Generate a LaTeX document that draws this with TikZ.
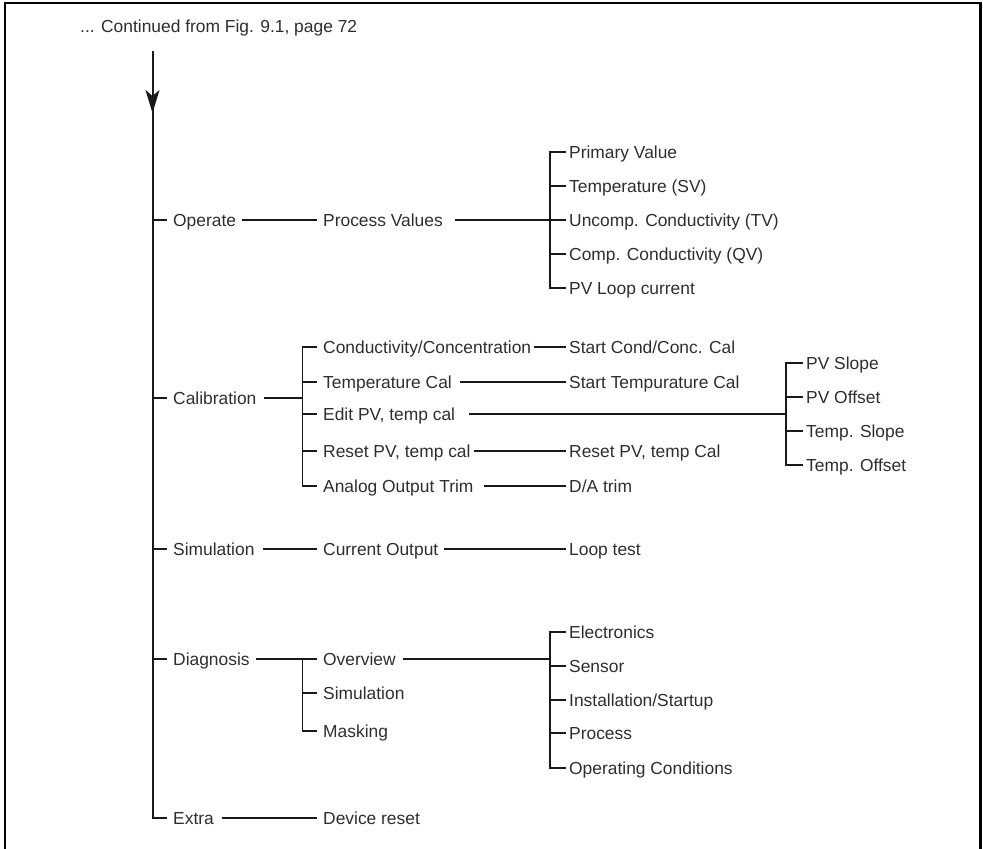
\documentclass[tikz,border=0pt]{standalone}
\usepackage{fontspec}
\setmainfont{Liberation Sans}
\usetikzlibrary{arrows.meta}
\begin{document}
\begin{tikzpicture}[x=1pt,y=-1pt,
  lbl/.style={anchor=west, inner xsep=3pt, inner ysep=0pt, text height=12.4pt, text depth=0pt,
              font=\fontsize{17.4}{20}\selectfont, text=black!82},
  ln/.style={line width=1.7pt, draw=black!90},
  trunk/.style={line width=2pt, draw=black!90},
  frame/.style={line width=2.6pt, draw=black}]
\useasboundingbox (0,0) rectangle (983,849);
\draw[frame] (5,849) -- (5,3) -- (980.5,3) -- (980.5,849);

% header
\node[lbl] (hd) at (77,26) {... Continued from Fig. 9.1, page 72};

% bracket columns
\coordinate (b2) at (302.5,0);
\coordinate (b3) at (550,0);
\coordinate (b4) at (786,0);

% column 1
\node[lbl] (op)  at (170,220) {Operate};
\node[lbl] (cal) at (170,398) {Calibration};
\node[lbl] (sim) at (170,549) {Simulation};
\node[lbl] (dia) at (170,659) {Diagnosis};
\node[lbl] (ex)  at (170,818) {Extra};

% column 2
\node[lbl] (pv) at (320,220) {Process Values};
\node[lbl] (cc) at (320,347) {Conductivity/Concentration};
\node[lbl] (tc) at (320,382) {Temperature Cal};
\node[lbl] (ep) at (320,414) {Edit PV, temp cal};
\node[lbl] (rp) at (320,451) {Reset PV, temp cal};
\node[lbl] (ao) at (320,486) {Analog Output Trim};
\node[lbl] (co) at (320,549) {Current Output};
\node[lbl] (ov) at (320,659) {Overview};
\node[lbl] (sm) at (320,693) {Simulation};
\node[lbl] (mk) at (320,731) {Masking};
\node[lbl] (dr) at (320,818) {Device reset};

% column 3
\node[lbl] (p1) at (566,152) {Primary Value};
\node[lbl] (p2) at (566,186) {Temperature (SV)};
\node[lbl] (p3) at (566,220) {Uncomp. Conductivity (TV)};
\node[lbl] (p4) at (566,254) {Comp. Conductivity (QV)};
\node[lbl] (p5) at (566,288) {PV Loop current};
\node[lbl] (sc) at (566,347) {Start Cond/Conc. Cal};
\node[lbl] (st) at (566,382) {Start Tempurature Cal};
\node[lbl] (rc) at (566,451) {Reset PV, temp Cal};
\node[lbl] (da) at (566,486) {D/A trim};
\node[lbl] (lt) at (566,549) {Loop test};
\node[lbl] (e1) at (566,632) {Electronics};
\node[lbl] (e2) at (566,666) {Sensor};
\node[lbl] (e3) at (566,700) {Installation/Startup};
\node[lbl] (e4) at (566,733) {Process};
\node[lbl] (e5) at (566,768) {Operating Conditions};

% column 4
\node[lbl] (s1) at (803,363) {PV Slope};
\node[lbl] (s2) at (803,397) {PV Offset};
\node[lbl] (s3) at (803,431) {Temp. Slope};
\node[lbl] (s4) at (803,465) {Temp. Offset};

% trunk
\coordinate (top) at (152.5,51);
\coordinate (tip) at (152.5,113);
\coordinate (bot) at (152.5,818);
\draw[trunk, -{Stealth[length=23pt,width=14pt,inset=6pt]}] (top) -- (tip);
\draw[trunk, line join=miter, shorten >=3.5pt] (top) -- (bot) -- (ex.west);
\foreach \n in {op,cal,sim,dia}
  \draw[ln, shorten >=3.5pt] (\n.west -| bot) -- (\n.west);

% Operate branch
\draw[ln, shorten <=3pt, shorten >=3pt] (op.east) -- (pv.west);
\draw[ln, shorten <=9pt] (pv.east) -- (p3.west);
\draw[ln] (p1.west) -- (p1.west -| b3) -- (p5.west -| b3) -- (p5.west);
\draw[ln] (p2.west -| b3) -- (p2.west);
\draw[ln] (p4.west -| b3) -- (p4.west);

% Calibration branch
\draw[ln, shorten <=4pt] (cal.east) -- (cal.east -| b2);
\draw[ln, shorten <=3pt, shorten >=3pt] (cc.west) -- (cc.west -| b2) -- (ao.west -| b2) -- (ao.west);
\foreach \n in {tc,ep,rp}
  \draw[ln, shorten >=3pt] (\n.west -| b2) -- (\n.west);
\draw[ln] (cc.east) -- (sc.west);
\draw[ln, shorten <=5pt] (tc.east) -- (st.west);
\draw[ln, shorten <=11pt] (ep.east) -- (ep.east -| b4);
\draw[ln] (rp.east) -- (rc.west);
\draw[ln, shorten <=7pt] (ao.east) -- (da.west);
\draw[ln] (s1.west) -- (s1.west -| b4) -- (s4.west -| b4) -- (s4.west);
\draw[ln] (s2.west -| b4) -- (s2.west);
\draw[ln] (s3.west -| b4) -- (s3.west);

% Simulation branch
\draw[ln, shorten <=5pt, shorten >=3pt] (sim.east) -- (co.west);
\draw[ln, shorten <=3pt] (co.east) -- (lt.west);

% Diagnosis branch
\draw[ln, shorten <=3pt, shorten >=3pt] (dia.east) -- (ov.west);
\draw[ln, shorten >=3pt] (ov.west -| b2) -- (mk.west -| b2) -- (mk.west);
\draw[ln, shorten >=3pt] (sm.west -| b2) -- (sm.west);
\draw[ln, shorten <=4pt] (ov.east) -- (ov.east -| b3);
\draw[ln] (e1.west) -- (e1.west -| b3) -- (e5.west -| b3) -- (e5.west);
\foreach \n in {e2,e3,e4}
  \draw[ln] (\n.west -| b3) -- (\n.west);

% Extra branch
\draw[ln, shorten <=5pt, shorten >=3pt] (ex.east) -- (dr.west);
\end{tikzpicture}
\end{document}
